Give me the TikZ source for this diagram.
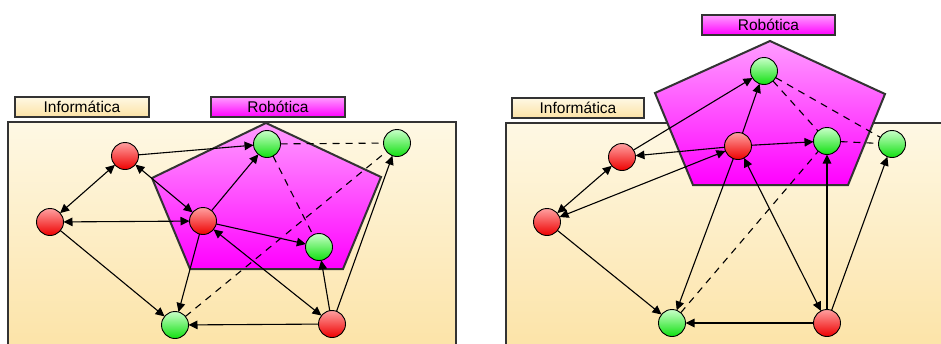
\documentclass[tikz,border=0pt]{standalone}
\usepackage{fontspec}
\setmainfont{Liberation Sans}
\usetikzlibrary{arrows.meta}
\definecolor{frame}{HTML}{333333}
\definecolor{creamtop}{HTML}{FEF8E4}
\definecolor{creambot}{HTML}{FCE2A4}
\definecolor{magtop}{HTML}{FF9CFF}
\definecolor{magbot}{HTML}{FF00FF}
\definecolor{redtop}{HTML}{FFA0A0}
\definecolor{redbot}{HTML}{EE0000}
\definecolor{grntop}{HTML}{C8FFC8}
\definecolor{grnbot}{HTML}{10E010}
\tikzset{
  area/.style={draw=frame, line width=2pt, top color=creamtop, bottom color=creambot},
  penta/.style={draw=frame, line width=2pt, top color=magtop, bottom color=magbot},
  infolab/.style={draw=frame, line width=2pt, top color=creamtop, bottom color=creambot},
  robolab/.style={draw=frame, line width=2pt, top color=magtop, bottom color=magbot},
  labtext/.style={font=\fontsize{15.5}{17}\selectfont, inner sep=0pt},
  ball/.style={circle, draw=black, line width=0.9pt, minimum size=27pt, inner sep=0pt, outer sep=0pt},
  rn/.style={ball, top color=redtop, bottom color=redbot},
  gn/.style={ball, top color=grntop, bottom color=grnbot},
  ed/.style={line width=1.1pt, -{Triangle[length=9pt,width=8.5pt]}},
  bd/.style={line width=1.1pt, {Triangle[length=9pt,width=8.5pt]}-{Triangle[length=9pt,width=8.5pt]}},
  dsh/.style={line width=1.1pt, dash pattern=on 7pt off 6pt}
}
\begin{document}
\begin{tikzpicture}[x=1pt,y=-1pt]
\useasboundingbox (0,0) rectangle (941,343);
\clip (0,0) rectangle (941,343);
\fill[white] (0,0) rectangle (941,343);
% ===== left panel =====
\path[area] (8,122) rectangle (456,360);
\path[penta] (266,123) -- (381,177) -- (343,269) -- (190,269) -- (152,178) -- cycle;
\path[infolab] (15,97) rectangle (149,117);
\node[labtext] (linfo) at (82,107) {Informática};
\path[robolab] (211,97) rectangle (345,117);
\node[labtext] (lrobo) at (278,107) {Robótica};
\node[rn] (lR1) at (125,156) {};
\node[gn] (lG1) at (267,144) {};
\node[gn] (lG2) at (397,143) {};
\node[rn] (lR2) at (50,222) {};
\node[rn] (lR3) at (203,221) {};
\node[gn] (lG3) at (319,247) {};
\node[gn] (lG4) at (175,325) {};
\node[rn] (lR4) at (332,324) {};
\draw[ed] (lR1) -- (lG1);
\draw[bd] (lR1) -- (lR2);
\draw[bd] (lR1) -- (lR3);
\draw[bd] (lR2) -- (lR3);
\draw[ed] (lR3) -- (lG1);
\draw[ed] (lR3) -- (lG3);
\draw[ed] (lR3) -- (lG4);
\draw[bd] (lR3) -- (lR4);
\draw[ed] (lR2) -- (lG4);
\draw[ed] (lR4) -- (lG4);
\draw[ed] (lR4) -- (lG3);
\draw[ed] (lR4) -- (lG2);
\draw[dsh] (lG1) -- (lG2);
\draw[dsh] (lG1) -- (lG3);
\draw[dsh] (lG4) -- (lG2);
% ===== right panel =====
\path[area] (506,123) rectangle (960,360);
\path[penta] (770,41) -- (885,94) -- (848,185) -- (693,185) -- (655,93) -- cycle;
\path[infolab] (512,98) rectangle (644,118);
\node[labtext] (rinfo) at (578,108) {Informática};
\path[robolab] (702,15) rectangle (835,35);
\node[labtext] (rrobo) at (768.5,25) {Robótica};
\node[gn] (rG1) at (764,71) {};
\node[rn] (rR1) at (738,146) {};
\node[gn] (rG2) at (827,141) {};
\node[gn] (rG3) at (892,144) {};
\node[rn] (rRa) at (622,157) {};
\node[rn] (rRb) at (547,222) {};
\node[gn] (rG4) at (672,323) {};
\node[rn] (rR4) at (827,323) {};
\draw[ed] (rRa) -- (rG1);
\draw[ed] (rR1) -- (rRa);
\draw[bd] (rRa) -- (rRb);
\draw[bd] (rRb) -- (rR1);
\draw[ed] (rR1) -- (rG1);
\draw[ed] (rR1) -- (rG2);
\draw[ed] (rR1) -- (rG4);
\draw[bd] (rR1) -- (rR4);
\draw[ed] (rR4) -- (rG2);
\draw[ed] (rR4) -- (rG3);
\draw[ed] (rR4) -- (rG4);
\draw[ed] (rRb) -- (rG4);
\draw[dsh] (rG4) -- (rG2);
\draw[dsh] (rG1) -- (rG2);
\draw[dsh] (rG1) -- (rG3);
\draw[dsh] (rG2) -- (rG3);
\end{tikzpicture}
\end{document}
